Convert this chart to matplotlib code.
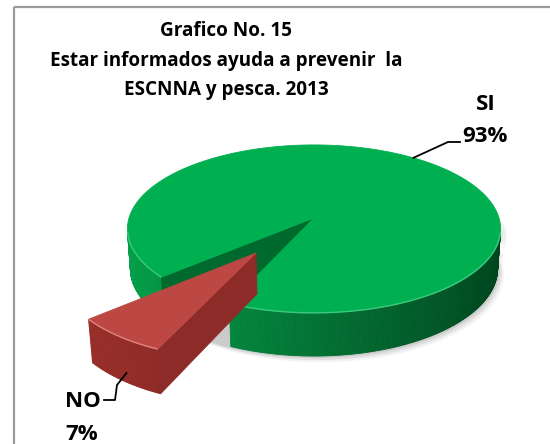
import numpy as np
import matplotlib.pyplot as plt
from matplotlib.patches import Polygon, Rectangle

# data
labels = ["SI", "NO"]
values = [93, 7]
explode = [0.0, 0.5]
title_lines = ["Grafico No. 15",
               "Estar informados ayuda a prevenir  la",
               "ESCNNA y pesca. 2013"]

# slice colours: top, wall light, wall dark, radial side, rim highlight
top_cols = ["#00B050", "#BC4743"]
wall_light = [(0.02, 0.63, 0.29), (0.62, 0.19, 0.17)]
wall_dark = [(0.0, 0.27, 0.12), (0.42, 0.11, 0.10)]
side_cols = ["#006A2E", "#8C2B27"]
rim_cols = ["#3CC97E", "#E0837C"]

START = 246.2          # first slice starts here (deg, counter-clockwise)

# simple perspective camera, units of pie radius -> pixels
CX, CY, S = 314, 218, 185
ELEV = np.radians(26.5)
DIST = 6.9
H = 0.24
CAM = np.array([0.0, -DIST * np.cos(ELEV), DIST * np.sin(ELEV)])

FONT = ["Open Sans", "DejaVu Sans"]


def proj(x, y, z):
    depth = DIST + y * np.cos(ELEV) - z * np.sin(ELEV)
    v = y * np.sin(ELEV) + z * np.cos(ELEV)
    f = DIST / depth
    return CX + S * x * f, CY - S * v * f


def facing(p, n):
    return np.dot(CAM - np.asarray(p), np.asarray(n)) > 0


def mix(c1, c2, t):
    return tuple(a + (b - a) * t for a, b in zip(c1, c2))


fig = plt.figure(figsize=(5.5, 4.44), dpi=100)
ax = fig.add_axes([0, 0, 1, 1])
ax.set_xlim(0, 550)
ax.set_ylim(444, 0)
ax.axis("off")

ax.add_patch(Rectangle((13.5, 7.5), 560, 460, fill=False, ec="#9a9a9a", lw=1.6))

angles = np.cumsum([0] + [v / sum(values) * 360 for v in values])
slices = []
for i in range(len(values)):
    a0, a1 = START + angles[i], START + angles[i + 1]
    mid = np.radians((a0 + a1) / 2)
    off = explode[i] * np.array([np.cos(mid), np.sin(mid)])
    slices.append((a0, a1, off))

# soft shadow under the body
th = np.radians(np.linspace(180, 360, 90))
bx, by = proj(np.cos(th), np.sin(th), -H)
ux, uy = proj(np.cos(th[::-1]), np.sin(th[::-1]), 0)
for k, alpha in [(6, 0.05), (4, 0.07), (2, 0.09)]:
    ax.fill(np.r_[bx, ux] + k, np.r_[by, uy] + k, color="black", alpha=alpha, lw=0, zorder=1)

for i, (a0, a1, off) in enumerate(slices):
    ox, oy = off
    z0 = 2 + i * 10
    th = np.radians(np.linspace(a0, a1, int(abs(a1 - a0)) * 2 + 2))
    xs, ys = ox + np.cos(th), oy + np.sin(th)

    # outer wall
    for j in range(len(th) - 1):
        tm = (th[j] + th[j + 1]) / 2
        n = (np.cos(tm), np.sin(tm), 0)
        if not facing((ox + n[0], oy + n[1], -H / 2), n):
            continue
        p1 = proj(xs[j], ys[j], 0)
        p2 = proj(xs[j + 1], ys[j + 1], 0)
        p3 = proj(xs[j + 1], ys[j + 1], -H)
        p4 = proj(xs[j], ys[j], -H)
        t = (1 - np.cos(tm)) / 2
        c = mix(wall_dark[i], wall_light[i], t)
        ax.add_patch(Polygon([p1, p2, p3, p4], closed=True, fc=c, ec=c, lw=0.6, zorder=z0))

    # radial faces
    for a, sgn in [(np.radians(a0), -1), (np.radians(a1), 1)]:
        n = (-sgn * np.sin(a), sgn * np.cos(a), 0)
        pm = (ox + 0.5 * np.cos(a), oy + 0.5 * np.sin(a), -H / 2)
        if not facing(pm, n):
            continue
        rx, ry = ox + np.cos(a), oy + np.sin(a)
        quad = [proj(ox, oy, 0), proj(rx, ry, 0), proj(rx, ry, -H), proj(ox, oy, -H)]
        ax.add_patch(Polygon(quad, closed=True, fc=side_cols[i], ec=side_cols[i], lw=0.6,
                             zorder=z0 + 1))

    # top face
    tx, ty = proj(xs, ys, 0)
    cx0, cy0 = proj(ox, oy, 0)
    ax.add_patch(Polygon(np.c_[np.r_[cx0, tx], np.r_[cy0, ty]], closed=True,
                         fc=top_cols[i], ec=top_cols[i], lw=0.6, zorder=z0 + 2))
    front = np.sin(th) < -0.16
    hx, hy = np.where(front, tx, np.nan), np.where(front, ty, np.nan)
    ax.plot(hx, hy, color=rim_cols[i], lw=1.0, zorder=z0 + 3, solid_capstyle="butt")

# labels with leader lines
lab_kw = dict(fontsize=16, fontweight="bold", family=FONT,
              ha="center", va="baseline", color="black", zorder=40)

a0, a1, off = slices[0]
mid = np.radians((a0 + a1) / 2)
sx, sy = proj(off[0] + np.cos(mid), off[1] + np.sin(mid), 0)
ax.plot([sx, 448, 460], [sy, 142, 142], color="black", lw=1.3, zorder=40)
ax.text(486, 110, labels[0], **lab_kw)
ax.text(485, 142, f"{values[0]}%", **lab_kw)

a0, a1, off = slices[1]
mid = np.radians((a0 + a1) / 2)
nx, ny = proj(off[0] + np.cos(mid) * 0.97, off[1] + np.sin(mid) * 0.97, -H * 0.9)
ax.plot([104, 115, 117, nx], [400, 400, 385, ny], color="black", lw=1.3, zorder=40)
ax.text(83, 407, labels[1], **lab_kw)
ax.text(82, 440, f"{values[1]}%", **lab_kw)

for line, yb in zip(title_lines, [36, 66, 95]):
    ax.text(226, yb, line, fontsize=13.6, fontweight="bold", family=FONT,
            ha="center", va="baseline", color="black", zorder=40)

fig.savefig("out.png", dpi=100)
